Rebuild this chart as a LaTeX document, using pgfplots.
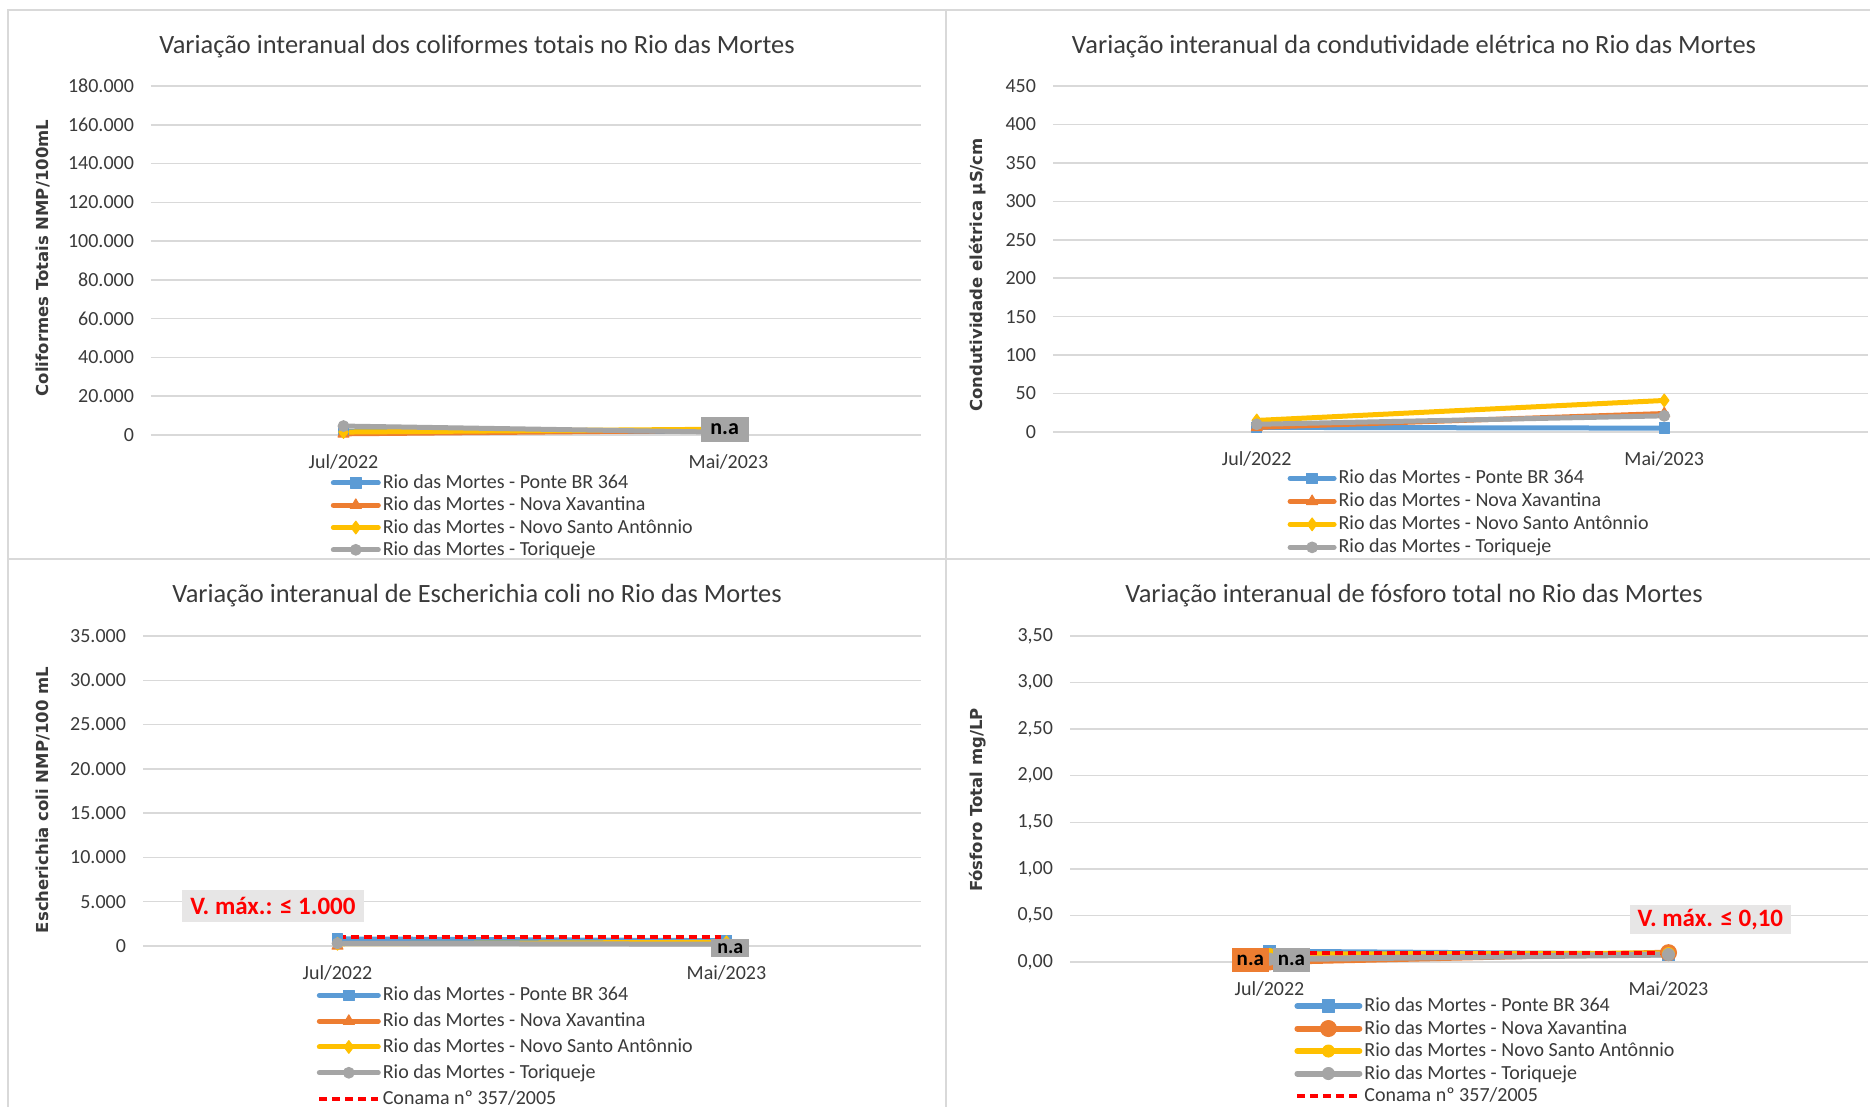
\documentclass[border=0pt]{standalone}
\usepackage{fontspec}
\setmainfont{Carlito}
\newfontfamily\ylfont{DejaVu Sans}
\usepackage{pgfplots}
\pgfplotsset{compat=1.18}
\definecolor{cblue}{HTML}{5B9BD5}
\definecolor{corange}{HTML}{ED7D31}
\definecolor{cyellow}{HTML}{FFC000}
\definecolor{cgray}{HTML}{A5A5A5}
\definecolor{cgrid}{HTML}{D9D9D9}
\definecolor{ctext}{HTML}{3A3A3A}
\definecolor{cframe}{HTML}{D9D9D9}
\definecolor{cbox}{HTML}{E7E6E6}
\pgfplotsset{
  base/.style={
    scale only axis, anchor=south west, clip=false,
    xmin=-0.5, xmax=1.5, xtick={0,1}, xticklabels={Jul/2022,Mai/2023},
    ymin=0,
    axis line style={draw=none}, major tick length=0pt, tick style={draw=none},
    ymajorgrids, grid style={cgrid, line width=0.75pt},
    ticklabel style={font=\fontsize{10}{12}\selectfont, text=ctext},
    yticklabel style={xshift=-5pt},
    xticklabel style={yshift=-6.2pt},
    scaled y ticks=false,
    /pgf/number format/assume math mode=true,
    /pgf/number format/fixed,
    /pgf/number format/use comma,
    /pgf/number format/1000 sep={.},
    legend cell align=left,
  },
  leg/.style n args={5}{% x, y, length, textheight, textdepth
    legend style={at={(#1,#2)}, anchor=north west, draw=none, fill=none,
      font=\fontsize{10}{12}\selectfont, text=ctext, row sep=0pt, column sep=1pt,
      nodes={inner sep=0pt, text height=#4, text depth=#5}},
    legend image code/.code={\draw[mark repeat=2,mark phase=2,##1] plot coordinates {(0pt,0pt) ({#3/2},0pt) (#3,0pt)};},
  },
  sblue/.style={cblue, line width=2.5pt, line cap=round, line join=round, mark=square*, mark size=2.6pt, mark options={solid, fill=cblue, draw=cblue, line width=0.5pt}},
  sorange/.style={corange, line width=2.5pt, line cap=round, line join=round, mark=triangle*, mark size=3.2pt, mark options={solid, fill=corange, draw=corange, line width=0.5pt}},
  syellow/.style={cyellow, line width=2.5pt, line cap=round, line join=round, mark=diamond*, mark size=3.2pt, mark options={solid, fill=cyellow, draw=cyellow, line width=0.5pt}},
  sgray/.style={cgray, line width=2.5pt, line cap=round, line join=round, mark=*, mark size=2.7pt, mark options={solid, fill=cgray, draw=cgray, line width=0.5pt}},
  sred/.style={red, line width=2pt, dash pattern=on 4pt off 2.5pt, no marks},
}
\begin{document}
\begin{tikzpicture}
\useasboundingbox (0pt,0pt) rectangle (935pt,553.5pt);
% frames
\draw[cframe, line width=0.6pt] (4pt,0pt) -- (4pt,548.5pt) -- (935pt,548.5pt);
\draw[cframe, line width=0.6pt] (473pt,0pt) -- (473pt,548.5pt);
\draw[cframe, line width=1.4pt] (4pt,274pt) -- (935pt,274pt);

% ---------- Panel 1 ----------
\begin{axis}[base, at={(75.5pt,336pt)}, width=385pt, height=174.5pt,
  ymax=180000, ytick distance=20000,
  leg={0.2252}{-0.0928}{22.5pt}{8.35pt}{2.8pt}]
\addplot[sblue] coordinates {(0,2000) (1,2000)};
\addlegendentry{Rio das Mortes - Ponte BR 364}
\addplot[sorange] coordinates {(0,600) (1,2400)};
\addlegendentry{Rio das Mortes - Nova Xavantina}
\addplot[syellow] coordinates {(0,1500) (1,3000)};
\addlegendentry{Rio das Mortes - Novo Santo Antônnio}
\addplot[sgray] coordinates {(0,4600) (1,1400)};
\addlegendentry{Rio das Mortes - Toriqueje}
\coordinate (na1) at (axis cs:0.99,2800);
\end{axis}
\node[fill=cgray, text=black, font=\bfseries\fontsize{11}{13}\selectfont, minimum width=24pt, minimum height=12.5pt, inner sep=0pt] at (na1) {n.a};

% ---------- Panel 2 ----------
\begin{axis}[base, at={(526.5pt,337.5pt)}, width=407.5pt, height=173pt,
  ymax=450, ytick distance=50,
  leg={0.2800}{-0.0881}{22pt}{8.55pt}{2.95pt}]
\addplot[sblue] coordinates {(0,6) (1,5)};
\addlegendentry{Rio das Mortes - Ponte BR 364}
\addplot[sorange] coordinates {(0,6) (1,24)};
\addlegendentry{Rio das Mortes - Nova Xavantina}
\addplot[syellow] coordinates {(0,15) (1,41)};
\addlegendentry{Rio das Mortes - Novo Santo Antônnio}
\addplot[sgray] coordinates {(0,10) (1,21)};
\addlegendentry{Rio das Mortes - Toriqueje}
\end{axis}

% ---------- Panel 3 ----------
\begin{axis}[base, at={(71.5pt,80.5pt)}, width=389pt, height=155pt,
  ymax=35000, ytick distance=5000,
  leg={0.2152}{-0.1035}{29.5pt}{9.2pt}{3.7pt}]
\addplot[sblue] coordinates {(0,800) (1,600)};
\addlegendentry{Rio das Mortes - Ponte BR 364}
\addplot[sorange] coordinates {(0,0)};
\addlegendentry{Rio das Mortes - Nova Xavantina}
\addplot[syellow] coordinates {(0,250) (1,420)};
\addlegendentry{Rio das Mortes - Novo Santo Antônnio}
\addplot[sgray] coordinates {(0,300) (1,200)};
\addlegendentry{Rio das Mortes - Toriqueje}
\addplot[sred] coordinates {(0,1000) (1,1000)};
\addlegendentry{Conama nº 357/2005}
\coordinate (na3) at (axis cs:1.01,-280);
\coordinate (vm3) at (axis cs:-0.166,4516);
\end{axis}
\node[fill=cgray, text=black, font=\bfseries\fontsize{10}{12}\selectfont, minimum width=19pt, minimum height=9pt, inner sep=0pt] at (na3) {n.a};
\node[fill=cbox, text=red, font=\bfseries\fontsize{12.5}{14}\selectfont, minimum width=91pt, minimum height=16pt, inner sep=0pt] at (vm3) {V. máx.: ≤ 1.000};

% ---------- Panel 4 ----------
\begin{axis}[base, at={(535pt,72.5pt)}, width=399pt, height=163pt,
  ymax=3.5, ytick distance=0.5,
  yticklabel style={/pgf/number format/fixed, /pgf/number format/fixed zerofill, /pgf/number format/precision=2},
  leg={0.2732}{-0.0871}{31pt}{8.4pt}{2.85pt}]
\addplot[sblue, line width=3pt, mark size=3.2pt] coordinates {(0,0.11) (1,0.08)};
\addlegendentry{Rio das Mortes - Ponte BR 364}
\addplot[sorange, line width=3pt, mark=*, mark size=4pt] coordinates {(0,0) (1,0.10)};
\addlegendentry{Rio das Mortes - Nova Xavantina}
\addplot[syellow, line width=3pt, mark=*, mark size=3pt] coordinates {(0,0.08) (1,0.09)};
\addlegendentry{Rio das Mortes - Novo Santo Antônnio}
\addplot[sgray, line width=3pt, mark=*, mark size=3pt] coordinates {(0,0.03) (1,0.08)};
\addlegendentry{Rio das Mortes - Toriqueje}
\addplot[sred] coordinates {(0,0.10) (1,0.10)};
\addlegendentry{Conama nº 357/2005}
\coordinate (na4a) at (axis cs:-0.048,0.02);
\coordinate (na4b) at (axis cs:0.055,0.02);
\coordinate (vm4) at (axis cs:1.105,0.451);
\end{axis}
\node[fill=corange, text=black, font=\bfseries\fontsize{10.5}{12}\selectfont, minimum width=18.5pt, minimum height=12pt, inner sep=0pt] at (na4a) {n.a};
\node[fill=cgray, text=black, font=\bfseries\fontsize{10.5}{12}\selectfont, minimum width=18.5pt, minimum height=12pt, inner sep=0pt] at (na4b) {n.a};
\node[fill=cbox, text=red, font=\bfseries\fontsize{12.5}{14}\selectfont, minimum width=80.5pt, minimum height=14.5pt, inner sep=0pt] at (vm4) {V. máx. ≤ 0,10};

% titles
\begin{scope}[every node/.style={text=ctext, font=\fontsize{13.2}{16}\selectfont}]
\node at (238.5pt,530.3pt) {Variação interanual dos coliformes totais no Rio das Mortes};
\node at (707pt,530.3pt) {Variação interanual da condutividade elétrica no Rio das Mortes};
\node at (238.5pt,255.8pt) {Variação interanual de Escherichia coli no Rio das Mortes};
\node at (707pt,255.8pt) {Variação interanual de fósforo total no Rio das Mortes};
\end{scope}
% y labels
\begin{scope}[every node/.style={text=ctext, font=\ylfont\bfseries\fontsize{8.25}{10}\selectfont, rotate=90}]
\node at (21.5pt,424.5pt) {Coliformes Totais NMP/100mL};
\node at (489pt,416pt) {Condutividade elétrica µS/cm};
\node at (21.5pt,153.5pt) {Escherichia coli NMP/100 mL};
\node at (489pt,153.5pt) {Fósforo Total mg/LP};
\end{scope}
\end{tikzpicture}
\end{document}
